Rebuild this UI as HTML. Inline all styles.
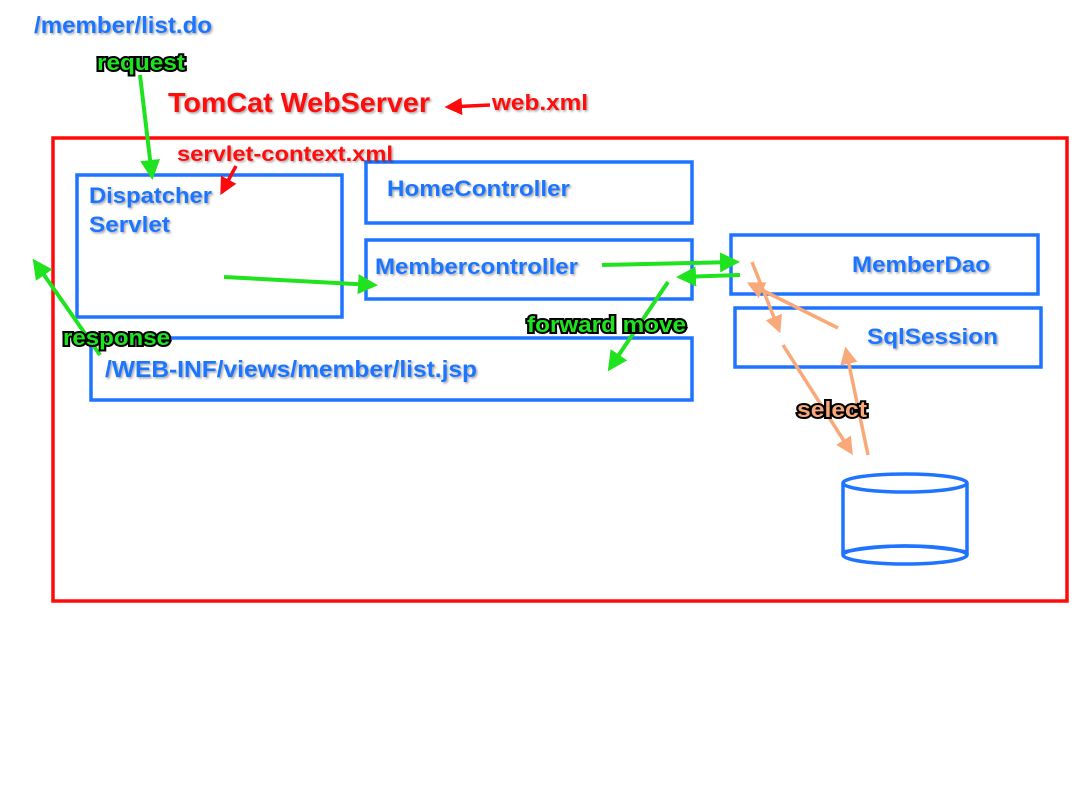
<!DOCTYPE html>
<html><head><meta charset="utf-8"><style>
html,body{margin:0;padding:0;background:#fff;width:1086px;height:794px;overflow:hidden}
text{font-family:"Liberation Sans",Arial,sans-serif;font-weight:bold}
.b{fill:#1f74ff;filter:url(#sh)}
.r{fill:#ff0a0a;filter:url(#sh)}
.g{fill:#1fe31f;stroke:#000;stroke-width:4;paint-order:stroke}
.o{fill:#f9a979;stroke:#000;stroke-width:4;paint-order:stroke}
.box{fill:none;stroke:#1f74ff;stroke-width:3.5}
</style></head><body>
<svg width="1086" height="794" viewBox="0 0 1086 794">
<defs>
<filter id="sh" x="-5%" y="-20%" width="115%" height="150%"><feDropShadow dx="1.5" dy="1.5" stdDeviation="1" flood-color="#000" flood-opacity="0.35"/></filter>
<marker id="ag" markerWidth="5" markerHeight="5" refX="4" refY="2.5" orient="auto"><path d="M0,0 L5,2.5 L0,5 Z" fill="#1fe31f"/></marker>
<marker id="ar" markerWidth="5" markerHeight="5" refX="4" refY="2.5" orient="auto"><path d="M0,0 L5,2.5 L0,5 Z" fill="#ff0a0a"/></marker>
<marker id="ao" markerWidth="5" markerHeight="5" refX="4" refY="2.5" orient="auto"><path d="M0,0 L5,2.5 L0,5 Z" fill="#f9a979"/></marker>
</defs>
<rect x="53" y="138" width="1014" height="463" fill="none" stroke="#ff0a0a" stroke-width="3.5"/>
<rect class="box" x="77" y="175" width="265" height="142"/>
<rect class="box" x="366" y="162" width="326" height="61"/>
<rect class="box" x="366" y="240" width="326" height="59"/>
<rect class="box" x="91" y="338" width="601" height="62"/>
<rect class="box" x="731" y="235" width="307" height="59"/>
<rect class="box" x="735" y="308" width="306" height="59"/>
<g fill="none" stroke="#1f74ff" stroke-width="3.5">
<ellipse cx="905" cy="483" rx="62" ry="9"/>
<path d="M843,552 Q905,540 967,552"/>
<ellipse cx="905" cy="555" rx="62" ry="9"/>
<line x1="843" y1="483" x2="843" y2="555"/><line x1="967" y1="483" x2="967" y2="555"/>
</g>
<g stroke="#1fe31f" stroke-width="4" fill="none">
<line x1="140" y1="75" x2="152" y2="176" marker-end="url(#ag)"/>
<line x1="224" y1="277" x2="374" y2="285" marker-end="url(#ag)"/>
<line x1="602" y1="265" x2="736" y2="262" marker-end="url(#ag)"/>
<line x1="740" y1="275" x2="680" y2="277" marker-end="url(#ag)"/>
<line x1="668" y1="282" x2="610" y2="368" marker-end="url(#ag)"/>
<line x1="100" y1="355" x2="35" y2="262" marker-end="url(#ag)"/>
</g>
<g stroke="#ff0a0a" stroke-width="3.5">
<line x1="490" y1="105" x2="448" y2="107" marker-end="url(#ar)"/>
<line x1="236" y1="166" x2="222" y2="192" marker-end="url(#ar)"/>
</g>
<g stroke="#f9a979" stroke-width="3.5">
<line x1="752" y1="262" x2="779" y2="330" marker-end="url(#ao)"/>
<line x1="838" y1="328" x2="750" y2="284" marker-end="url(#ao)"/>
<line x1="783" y1="345" x2="851" y2="452" marker-end="url(#ao)"/>
<line x1="868" y1="455" x2="846" y2="350" marker-end="url(#ao)"/>
</g>
<text class="b" x="34" y="33" font-size="23" textLength="178" lengthAdjust="spacingAndGlyphs">/member/list.do</text>
<text class="g" x="97" y="70" font-size="22" textLength="88" lengthAdjust="spacingAndGlyphs">request</text>
<text class="r" x="168" y="112" font-size="28" textLength="262" lengthAdjust="spacingAndGlyphs">TomCat WebServer</text>
<text class="r" x="492" y="110" font-size="22" textLength="96" lengthAdjust="spacingAndGlyphs">web.xml</text>
<text class="r" x="177" y="161" font-size="21" textLength="216" lengthAdjust="spacingAndGlyphs">servlet-context.xml</text>
<text class="b" x="89" y="203" font-size="22" textLength="123" lengthAdjust="spacingAndGlyphs">Dispatcher</text>
<text class="b" x="89" y="232" font-size="22" textLength="81" lengthAdjust="spacingAndGlyphs">Servlet</text>
<text class="b" x="387" y="196" font-size="22" textLength="183" lengthAdjust="spacingAndGlyphs">HomeController</text>
<text class="b" x="375" y="274" font-size="22" textLength="203" lengthAdjust="spacingAndGlyphs">Membercontroller</text>
<text class="b" x="852" y="272" font-size="22" textLength="138" lengthAdjust="spacingAndGlyphs">MemberDao</text>
<text class="b" x="867" y="344" font-size="22" textLength="131" lengthAdjust="spacingAndGlyphs">SqlSession</text>
<text class="b" x="105" y="377" font-size="23" textLength="372" lengthAdjust="spacingAndGlyphs">/WEB-INF/views/member/list.jsp</text>
<text class="g" x="63" y="345" font-size="22" textLength="107" lengthAdjust="spacingAndGlyphs">response</text>
<text class="g" x="527" y="332" font-size="22" textLength="159" lengthAdjust="spacingAndGlyphs">forward move</text>
<text class="o" x="797" y="417" font-size="22" textLength="70" lengthAdjust="spacingAndGlyphs">select</text>
</svg>
</body></html>
